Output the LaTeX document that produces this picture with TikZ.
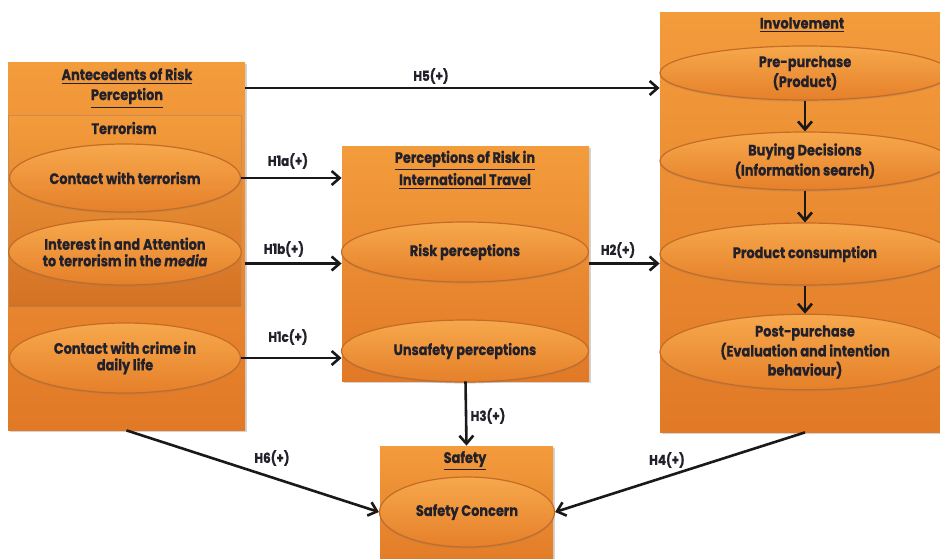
\documentclass[tikz,border=0pt]{standalone}
\usepackage{fontspec}
\setmainfont{Poppins}[FakeStretch=0.85, BoldFeatures={FakeBold=0.6}, BoldItalicFeatures={FakeBold=0.6}]
\usetikzlibrary{shapes.geometric,fit,shadows,arrows.meta}
\definecolor{boxtop}{RGB}{243,156,60}
\definecolor{boxbot}{RGB}{225,121,38}
\definecolor{ovtop}{RGB}{247,168,76}
\definecolor{ovbot}{RGB}{229,128,42}
\definecolor{ovline}{RGB}{196,108,38}
\definecolor{ink}{RGB}{34,32,42}
\tikzstyle{box}=[rectangle, inner sep=0pt, top color=boxtop, bottom color=boxbot, drop shadow={shadow xshift=1pt, shadow yshift=-1.2pt, opacity=0.35}]
\tikzstyle{inbox}=[rectangle, inner sep=0pt, top color=boxtop, bottom color=boxbot!94!black, draw=ovline!80, line width=0.4pt]
\tikzstyle{oval}=[ellipse, inner sep=0pt, top color=ovtop, bottom color=ovbot, draw=ovline, line width=0.6pt, drop shadow={shadow xshift=0pt, shadow yshift=-0.8pt, opacity=0.3}, align=center, text=ink, font=\fontsize{7.6}{8.3}\selectfont\bfseries]
\tikzstyle{head}=[align=center, text=ink, font=\fontsize{7.6}{10}\selectfont\bfseries]
\tikzstyle{hyp}=[draw=black!90, line width=1.3pt, -{Straight Barb[length=4pt,width=7pt]}]
\tikzstyle{hlabel}=[text=ink, font=\fontsize{7}{8}\selectfont\bfseries]

\begin{document}
\begin{tikzpicture}[x=0.5pt, y=-0.5pt]
\clip (0,0) rectangle (940,558);
% boxes
\node[box, fit={(8,62) (245,430)}] (ante) {};
\node[inbox, fit={(8,115) (241,307)}] (terr) {};
\node[box, fit={(342,146) (589,381)}] (percep) {};
\node[box, fit={(660,12) (950,432)}] (inv) {};
\node[box, fit={(380,446) (553,570)}] (safety) {};
% headers
\node[head] (anteH) at (127,88) {\underline{Antecedents of Risk}\\\underline{Perception}};
\node[head] (terrH) at (124,128) {Terrorism};
\node[head] (percepH) at (465,170) {\underline{Perceptions of Risk in}\\\underline{International Travel}};
\node[head] (invH) at (802,25) {\underline{Involvement}};
\node[head] (safetyH) at (465,461) {\underline{Safety}};
% constructs
\node[oval, minimum width=115.5pt, minimum height=34pt] (contact) at (125,178) {Contact with terrorism};
\node[oval, minimum width=115.5pt, minimum height=33pt] (media) at (125,252) {Interest in and Attention\\to terrorism in the \textit{media}};
\node[oval, minimum width=115.5pt, minimum height=35pt] (crime) at (125,358) {Contact with crime in\\daily life};
\node[oval, minimum width=123.5pt, minimum height=30pt] (risk) at (465,252) {Risk perceptions};
\node[oval, minimum width=123.5pt, minimum height=31pt] (unsafe) at (465,351) {Unsafety perceptions};
\node[oval, minimum width=145pt, minimum height=27pt] (pre) at (805,73) {Pre-purchase\\(Product)};
\node[oval, minimum width=145pt, minimum height=29pt] (buying) at (805,161) {Buying Decisions\\(Information search)};
\node[oval, minimum width=145pt, minimum height=31pt] (consum) at (805,254) {Product consumption};
\node[oval, minimum width=145pt, minimum height=35pt] (post) at (805,352) {Post-purchase\\(Evaluation and intention\\behaviour)};
\node[oval, minimum width=87.5pt, minimum height=35pt] (concern) at (467,512) {Safety Concern};
% hypotheses
\node[hlabel] (h5) at (431,76) {H5(+)};
\node[hlabel] (h1a) at (288,161) {H1a(+)};
\node[hlabel] (h1b) at (284,249) {H1b(+)};
\node[hlabel] (h1c) at (288,337) {H1c(+)};
\node[hlabel] (h2) at (618,250) {H2(+)};
\node[hlabel] (h3) at (488,416) {H3(+)};
\node[hlabel] (h6) at (272,458) {H6(+)};
\node[hlabel] (h4) at (667,460) {H4(+)};
\draw[hyp] (ante.east |- anteH) -- (inv.west |- anteH);
\draw[hyp] (contact.east) -- (contact -| percep.west);
\draw[hyp] (percep.west -| ante.east) -- (percep.west);
\draw[hyp] (crime.east) -- (crime -| percep.west);
\draw[hyp] (percep.east) -- (percep.east -| inv.west);
\draw[hyp] (percep.south) -- (safety.north);
\draw[hyp] (ante.south) -- (concern.west);
\draw[hyp] (inv.south) -- (concern.east);
\draw[hyp] (pre) -- (buying);
\draw[hyp] (buying) -- (consum);
\draw[hyp] (consum) -- (post);
\end{tikzpicture}
\end{document}
